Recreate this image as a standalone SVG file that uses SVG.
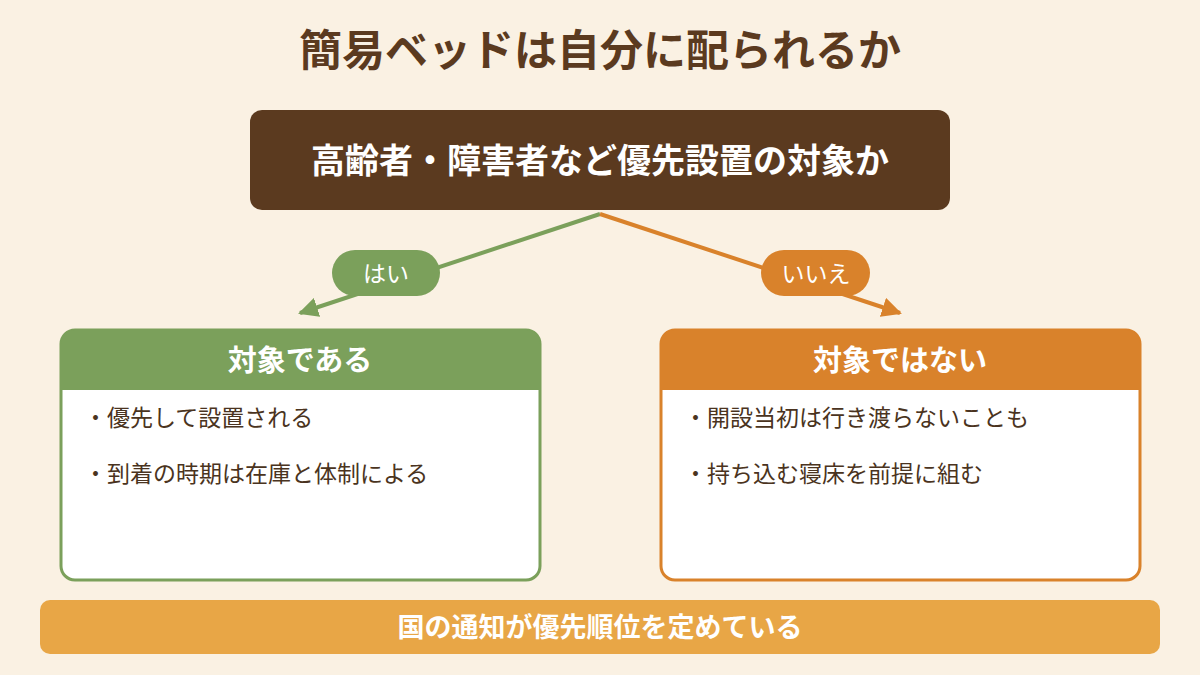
<svg xmlns="http://www.w3.org/2000/svg" width="1200" height="675" viewBox="0 0 1200 675">
<style>
text{font-family:"Noto Sans CJK JP","Noto Sans",sans-serif}
.w{fill:#fff;font-weight:bold}
.l{fill:#fff;font-weight:normal;font-size:23px}
.b{fill:#4a3320;font-size:23px}
</style>
<defs>
<marker id="ag" viewBox="0 0 10 10" refX="9" refY="5" markerWidth="5" markerHeight="5" orient="auto"><path d="M0,0L10,5L0,10z" fill="#7ba05b"/></marker>
<marker id="ao" viewBox="0 0 10 10" refX="9" refY="5" markerWidth="5" markerHeight="5" orient="auto"><path d="M0,0L10,5L0,10z" fill="#d9822b"/></marker>
</defs>
<rect width="1200" height="675" fill="#faf1e3"/>
<text x="600" y="66" text-anchor="middle" font-size="43" font-weight="bold" fill="#5b3a1f">簡易ベッドは自分に配られるか</text>
<g id="q"><rect x="250" y="110" width="700" height="100" rx="12" fill="#5b3a1f"/>
<text class="w" x="600" y="173" text-anchor="middle" font-size="34">高齢者・障害者など優先設置の対象か</text></g>
<g id="connectors">
<line x1="600" y1="214" x2="300" y2="313" stroke="#7ba05b" stroke-width="4" marker-end="url(#ag)"/>
<line x1="600" y1="214" x2="900" y2="313" stroke="#d9822b" stroke-width="4" marker-end="url(#ao)"/>
<rect x="332" y="250" width="108" height="46" rx="23" fill="#7ba05b"/>
<text class="l" x="386" y="282" text-anchor="middle">はい</text>
<rect x="761" y="250" width="109" height="46" rx="23" fill="#d9822b"/>
<text class="l" x="816" y="282" text-anchor="middle">いいえ</text>
</g>
<g id="yes">
<rect x="61" y="330" width="479" height="250" rx="14" fill="#fff" stroke="#7ba05b" stroke-width="3"/>
<path d="M61,390V344a14,14 0 0 1 14,-14H526a14,14 0 0 1 14,14V390z" fill="#7ba05b"/>
<text class="w" x="300" y="371" text-anchor="middle" font-size="29">対象である</text>
<text class="b" x="84" y="426">・優先して設置される</text>
<text class="b" x="84" y="482">・到着の時期は在庫と体制による</text>
</g>
<g id="no">
<rect x="661" y="330" width="479" height="250" rx="14" fill="#fff" stroke="#d9822b" stroke-width="3"/>
<path d="M661,390V344a14,14 0 0 1 14,-14H1126a14,14 0 0 1 14,14V390z" fill="#d9822b"/>
<text class="w" x="900" y="371" text-anchor="middle" font-size="29">対象ではない</text>
<text class="b" x="684" y="426">・開設当初は行き渡らないことも</text>
<text class="b" x="684" y="482">・持ち込む寝床を前提に組む</text>
</g>
<g id="note">
<rect x="40" y="600" width="1120" height="54" rx="10" fill="#e8a646"/>
<text class="w" x="600" y="637" text-anchor="middle" font-size="27">国の通知が優先順位を定めている</text>
</g>
</svg>
